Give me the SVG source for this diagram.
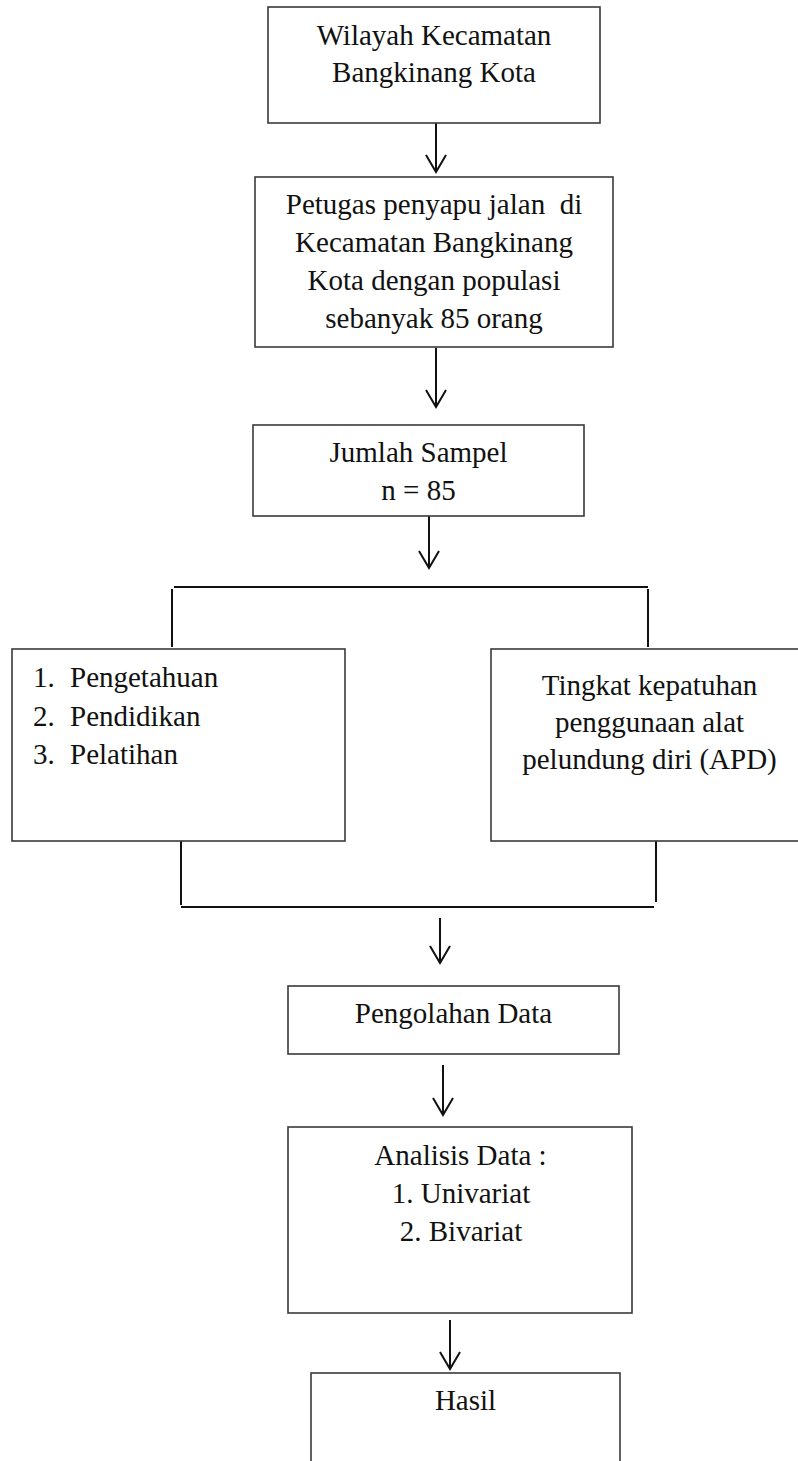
<svg xmlns="http://www.w3.org/2000/svg" width="798" height="1461" viewBox="0 0 798 1461">
<style>
.box{fill:#fff;stroke:#3a3a3a;stroke-width:1.6}
.t{font-family:"Liberation Serif","Times New Roman",serif;font-size:29px;fill:#111}
.c{text-anchor:middle}
.ln{fill:none;stroke:#111;stroke-width:2}
</style>
<defs>
<marker id="ah" markerUnits="userSpaceOnUse" viewBox="0 0 20 24" markerWidth="20" markerHeight="24" refX="18" refY="12" orient="auto">
<path d="M1,2 L18,12 L1,22" fill="none" stroke="#111" stroke-width="2"/>
</marker>
</defs>
<rect width="798" height="1461" fill="#fff"/>
<g id="connectors">
<line class="ln" x1="436" y1="123" x2="436" y2="172" marker-end="url(#ah)"/>
<line class="ln" x1="436" y1="348" x2="436" y2="407" marker-end="url(#ah)"/>
<line class="ln" x1="429" y1="516" x2="429" y2="568" marker-end="url(#ah)"/>
<polyline class="ln" points="172,647 172,589"/>
<line class="ln" x1="174" y1="587" x2="648" y2="587"/>
<polyline class="ln" points="648,589 648,647"/>
<line class="ln" x1="181" y1="841" x2="181" y2="905"/>
<line class="ln" x1="181" y1="907" x2="654" y2="907"/>
<line class="ln" x1="656" y1="837" x2="656" y2="902"/>
<line class="ln" x1="440" y1="918" x2="440" y2="963" marker-end="url(#ah)"/>
<line class="ln" x1="443" y1="1065" x2="443" y2="1115" marker-end="url(#ah)"/>
<line class="ln" x1="450" y1="1320" x2="450" y2="1369" marker-end="url(#ah)"/>
</g>
<g id="n1">
<rect class="box" x="268" y="7" width="332" height="116"/>
<text class="t c" x="434" y="45">Wilayah Kecamatan</text>
<text class="t c" x="434" y="82">Bangkinang Kota</text>
</g>
<g id="n2">
<rect class="box" x="255" y="177" width="358" height="170"/>
<text class="t c" x="434" y="214" xml:space="preserve">Petugas penyapu jalan  di</text>
<text class="t c" x="434" y="252">Kecamatan Bangkinang</text>
<text class="t c" x="434" y="290">Kota dengan populasi</text>
<text class="t c" x="434" y="328">sebanyak 85 orang</text>
</g>
<g id="n3">
<rect class="box" x="253" y="425" width="331" height="91"/>
<text class="t c" x="418.5" y="462">Jumlah Sampel</text>
<text class="t c" x="418.5" y="500">n = 85</text>
</g>
<g id="n4">
<rect class="box" x="12" y="649" width="333" height="192"/>
<text class="t" x="33" y="687">1.</text><text class="t" x="70" y="687">Pengetahuan</text>
<text class="t" x="33" y="726">2.</text><text class="t" x="70" y="726">Pendidikan</text>
<text class="t" x="33" y="764">3.</text><text class="t" x="70" y="764">Pelatihan</text>
</g>
<g id="n5">
<rect class="box" x="491" y="649" width="317" height="192"/>
<text class="t c" x="649.5" y="695">Tingkat kepatuhan</text>
<text class="t c" x="649.5" y="732">penggunaan alat</text>
<text class="t c" x="649.5" y="769">pelundung diri (APD)</text>
</g>
<g id="n6">
<rect class="box" x="288" y="986" width="331" height="68"/>
<text class="t c" x="453.5" y="1023">Pengolahan Data</text>
</g>
<g id="n7">
<rect class="box" x="288" y="1127" width="344" height="186"/>
<text class="t c" x="460.5" y="1165">Analisis Data :</text>
<text class="t c" x="461" y="1203">1. Univariat</text>
<text class="t c" x="461" y="1241">2. Bivariat</text>
</g>
<g id="n8">
<rect class="box" x="311" y="1373" width="309" height="100"/>
<text class="t c" x="465.5" y="1410">Hasil</text>
</g>
</svg>
